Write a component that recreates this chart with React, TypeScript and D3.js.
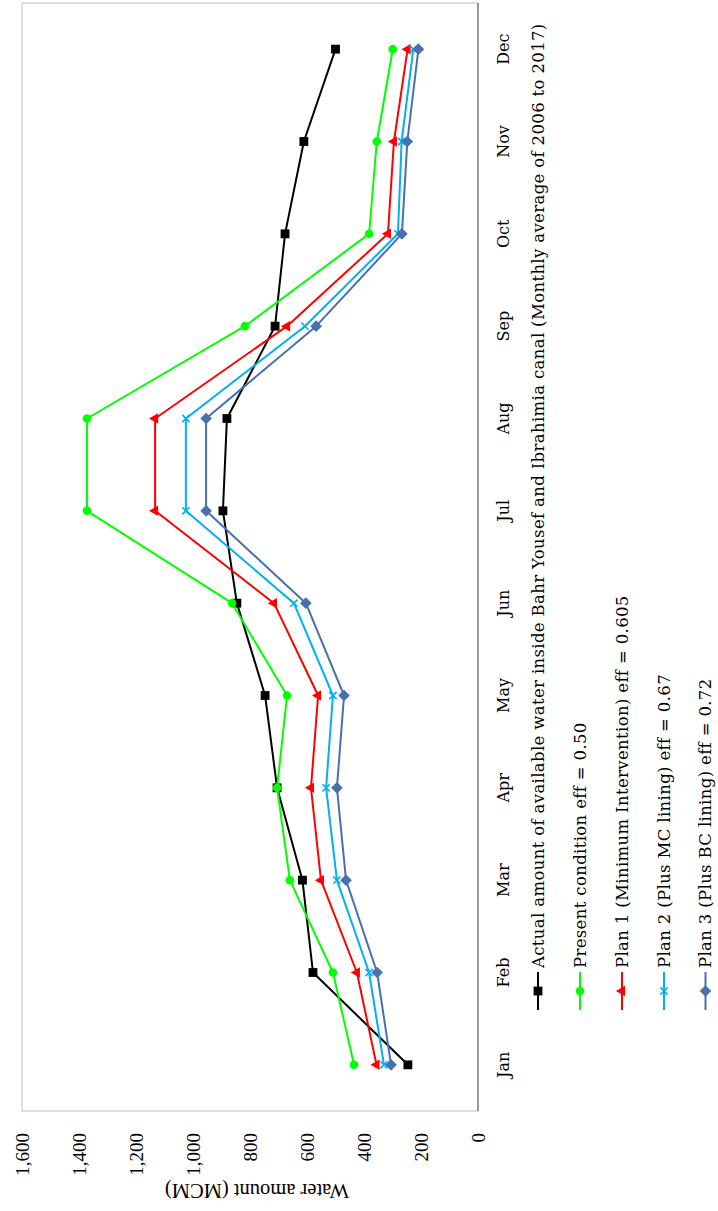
import React from "react";
import * as d3 from "d3";

const months = ["Jan", "Feb", "Mar", "Apr", "May", "Jun", "Jul", "Aug", "Sep", "Oct", "Nov", "Dec"];
const actual = [246, 579, 616, 705, 747, 846, 895, 881, 712, 677, 611, 500];
const present = [435, 509, 660, 705, 670, 863, 1372, 1372, 818, 382, 355, 299];
const plan1 = [356, 425, 551, 586, 561, 716, 1133, 1133, 670, 316, 295, 247];
const plan2 = [330, 382, 495, 533, 509, 646, 1025, 1025, 607, 281, 268, 227];
const plan3 = [305, 354, 463, 495, 470, 604, 954, 954, 568, 267, 248, 209];
const yTicks = [0, 200, 400, 600, 800, 1000, 1200, 1400, 1600];

const seriesNames = [
  "Actual amount of available water inside Bahr Yousef and Ibrahimia canal (Monthly average of 2006 to 2017)",
  "Present condition eff = 0.50",
  "Plan 1 (Minimum Intervention) eff = 0.605",
  "Plan 2 (Plus MC lining) eff = 0.67",
  "Plan 3 (Plus BC lining) eff = 0.72",
];

const series = [
  { name: seriesNames[0], values: actual, color: "#000000", marker: "square" },
  { name: seriesNames[1], values: present, color: "#00FF00", marker: "circle" },
  { name: seriesNames[2], values: plan1, color: "#FF0000", marker: "triangle" },
  { name: seriesNames[3], values: plan2, color: "#00B0F0", marker: "x" },
  { name: seriesNames[4], values: plan3, color: "#4770AD", marker: "diamond" },
];

// Chart drawn in its natural (unrotated) frame, then rotated 90° counter-clockwise.
const W = 1211;
const H = 718;
const plot = { left: 100, right: 1208, top: 22, bottom: 478 };

function Marker({ type, color, cx, cy }: { type: string; color: string; cx: number; cy: number }) {
  const t = `translate(${cx},${cy})`;
  if (type === "square") {
    return <path transform={t} d={d3.symbol(d3.symbolSquare, 78)()!} fill={color} />;
  }
  if (type === "circle") {
    return <path transform={t} d={d3.symbol(d3.symbolCircle, 58)()!} fill={color} />;
  }
  if (type === "triangle") {
    return <path transform={t} d={d3.symbol(d3.symbolTriangle, 48)()!} fill={color} />;
  }
  if (type === "x") {
    const s = 3.6;
    return (
      <path
        transform={t}
        d={`M${-s},${-s}L${s},${s}M${-s},${s}L${s},${-s}`}
        stroke={color}
        strokeWidth={1.6}
        fill="none"
      />
    );
  }
  const r = 5.8;
  return <path transform={t} d={`M0,${-r}L${r},0L0,${r}L${-r},0Z`} fill={color} />;
}

export default function App() {
  const x = d3.scaleBand<string>().domain(months).range([plot.left, plot.right]);
  const y = d3.scaleLinear().domain([0, 1600]).range([plot.bottom, plot.top]);
  const cx = (m: string) => (x(m) as number) + x.bandwidth() / 2;
  const line = d3
    .line<number>()
    .x((_, i) => cx(months[i]))
    .y((d) => y(d));

  const legendRows = [538, 580, 622, 664, 705.5];
  const legendLine = { x1: 201, x2: 239, text: 243 };

  return (
    <svg
      width={718}
      height={1211}
      style={{ position: "absolute", left: 0, top: 0, display: "block", background: "#fff" }}
    >
      <g transform={`translate(0,${W}) rotate(-90)`}>
        <rect x={0} y={0} width={W} height={H} fill="#fff" />
        {/* plot border */}
        <rect
          x={plot.left}
          y={plot.top}
          width={plot.right - plot.left}
          height={plot.bottom - plot.top}
          fill="none"
          stroke="#C8C8C8"
          strokeWidth={1.2}
        />
        {/* category axis line */}
        <line x1={plot.left} x2={plot.right} y1={y(0)} y2={y(0)} stroke="#888888" strokeWidth={1.6} />

        {/* value axis labels */}
        {yTicks.map((t) => (
          <text
            key={t}
            x={78}
            y={y(t)}
            dy="0.35em"
            textAnchor="end"
            fontFamily="'Liberation Serif', 'Times New Roman', serif"
            fontSize={19}
            fill="#000"
          >
            {d3.format(",")(t)}
          </text>
        ))}
        <text
          transform={`translate(27,${(plot.top + plot.bottom) / 2 + 7}) rotate(-90)`}
          textAnchor="middle"
          fontFamily="'Liberation Serif', 'Times New Roman', serif"
          fontSize={20.5}
          fill="#000"
        >
          Water amount (MCM)
        </text>

        {/* month labels */}
        {months.map((m) => (
          <text
            key={m}
            x={cx(m)}
            y={509}
            textAnchor="middle"
            fontFamily="'DejaVu Serif', serif"
            fontSize={16}
            fill="#000"
          >
            {m}
          </text>
        ))}

        {/* series */}
        {series.map((s) => (
          <g key={s.name}>
            <path d={line(s.values)!} fill="none" stroke={s.color} strokeWidth={2} strokeLinejoin="round" />
            {s.values.map((v, i) => (
              <Marker key={i} type={s.marker} color={s.color} cx={cx(months[i])} cy={y(v)} />
            ))}
          </g>
        ))}

        {/* legend */}
        {series.map((s, i) => (
          <g key={"lg" + i}>
            <line
              x1={legendLine.x1}
              x2={legendLine.x2}
              y1={legendRows[i]}
              y2={legendRows[i]}
              stroke={s.color}
              strokeWidth={2}
            />
            <Marker type={s.marker} color={s.color} cx={(legendLine.x1 + legendLine.x2) / 2} cy={legendRows[i]} />
            <text
              x={legendLine.text}
              y={legendRows[i]}
              dy="0.36em"
              fontFamily="'DejaVu Serif', serif"
              fontSize={16.5}
              letterSpacing={0.35}
              fill="#000"
            >
              {s.name}
            </text>
          </g>
        ))}
      </g>
    </svg>
  );
}
